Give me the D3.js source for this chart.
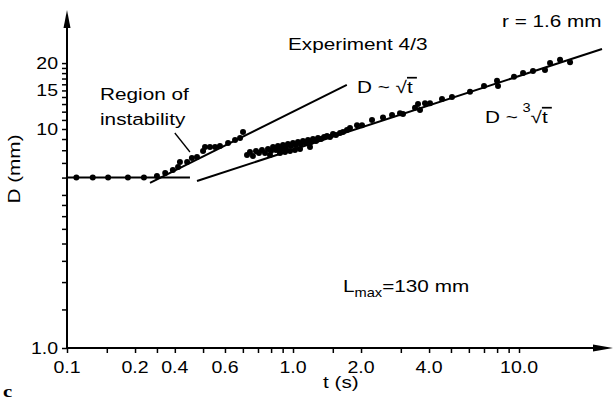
<!DOCTYPE html>
<html>
<head>
<meta charset="utf-8">
<script src="https://cdn.jsdelivr.net/npm/d3@7"></script>
<style>
body { margin: 0; background: #fff; }
text { font-family: "Liberation Sans", Arial, Helvetica, sans-serif; fill: #000; }
</style>
</head>
<body>
<script>
// values: t in s, D in mm

// plateau + region of instability (upper branch)
var earlyT = [0.110, 0.130, 0.152, 0.186, 0.219, 0.250, 0.272, 0.294, 0.310, 0.316, 0.340, 0.357,
              0.376, 0.400, 0.408, 0.429, 0.452, 0.475, 0.516, 0.554, 0.583, 0.601];
var earlyD = [6.0, 6.0, 6.0, 6.0, 6.0, 6.1, 6.30, 6.50, 6.70, 7.07, 7.07, 7.37,
              7.45, 7.94, 8.28, 8.28, 8.28, 8.37, 8.63, 8.91, 9.10, 9.69];

// dense cluster around t = 1 s
var clusterT = [0.626, 0.645, 0.665, 0.686, 0.707, 0.729, 0.752, 0.775, 0.799, 0.816, 0.841, 0.858,
                0.885, 0.903, 0.931, 0.950, 0.980, 1.000, 1.031, 1.052, 1.085, 1.107, 1.142, 1.165,
                1.201, 1.226, 1.264, 1.290, 1.330, 1.372, 1.414, 1.458, 1.503, 1.550, 1.614, 1.664,
                1.733, 0.791, 0.876, 0.970, 1.074, 1.189, 0.922, 1.020];
var clusterD = [7.61, 7.85, 7.53, 7.94, 7.77, 8.02, 7.77, 8.10, 7.94, 8.28, 8.02, 8.36,
                8.10, 8.45, 8.19, 8.54, 8.36, 8.63, 8.45, 8.72, 8.54, 8.82, 8.63, 8.91,
                8.72, 9.00, 8.82, 9.10, 9.00, 9.19, 9.29, 9.19, 9.49, 9.39, 9.59, 9.69,
                9.89, 7.61, 7.77, 7.94, 8.10, 8.28, 7.85, 8.02];

// late points along the cube-root law
var lateT = [1.787, 1.920, 2.020, 2.237, 2.502, 2.743, 2.975, 3.067, 3.466, 3.574, 3.647, 3.838,
             4.038, 4.563, 5.052, 6.071, 7.002, 7.993, 8.075, 9.504, 10.42, 11.53, 13.03, 13.72,
             15.19, 16.82];
var lateD = [10.1, 10.4, 10.4, 11.0, 11.3, 11.6, 11.8, 11.7, 12.5, 13.0, 12.2, 13.1,
             13.1, 13.7, 14.0, 14.8, 15.7, 16.6, 15.7, 17.3, 18.0, 18.4, 18.6, 20.0,
             20.7, 20.2];

// fitted lines
var plateauT = [0.1, 0.35],   plateauD = [6.0, 6.0];
var sqrtT    = [0.233, 1.73], sqrtD    = [5.67, 15.9];
var cbrtT    = [0.376, 23.3], cbrtD    = [5.79, 23.2];
// leader line for "Region of instability"
var leaderT  = [0.300, 0.350], leaderD = [9.59, 7.85];

// ticks
var xMinorTicks = [0.1, 0.15, 0.2, 0.25, 0.3, 0.4, 0.5, 0.6, 0.7, 0.8, 0.9, 1, 1.5, 2, 3, 4, 5, 6, 7, 8, 9, 10];
var xLabelTicks = [0.1, 0.2, 0.3, 0.5, 1, 2, 4, 10];
var xLabels     = ["0.1", "0.2", "0.4", "0.6", "1.0", "2.0", "4.0", "10.0"];
var yMinorTicks = [1, 1.5, 2, 2.5, 3, 3.5, 4, 4.5, 5, 6, 7, 8, 9, 10, 11, 12, 13, 14, 15, 16, 17, 18, 19, 20];
var yLabelTicks = [1, 10, 15, 20];
var yLabels     = ["1.0", "10", "15", "20"];

var W = 615, H = 403;
var sx = 1.22; // the original lettering is wide

var svg = d3.select("body").append("svg")
    .attr("width", W)
    .attr("height", H);

var x = d3.scaleLog().domain([0.1, 10]).range([67, 519]);
var y = d3.scaleLog().domain([1, 10]).range([348, 129]);

var x0 = x(0.1), y0 = y(1);
var xEnd = 613, yTop = 10;

function zip(ts, ds) { return ts.map(function(t, i) { return { t: t, D: ds[i] }; }); }

function label(px, py, str, size) {
    return svg.append("text")
        .attr("transform", "translate(" + px + "," + py + ") scale(" + sx + ",1)")
        .attr("font-size", size || 17)
        .text(str);
}

// ticks (drawn with d3 axes, domain lines replaced by arrows below)
svg.append("g")
    .attr("transform", "translate(0," + y0 + ")")
    .call(d3.axisBottom(x).tickValues(xMinorTicks).tickSize(5).tickFormat(""));
svg.append("g")
    .attr("transform", "translate(" + x0 + ",0)")
    .call(d3.axisLeft(y).tickValues(yMinorTicks).tickSize(5).tickFormat(""));
svg.selectAll(".domain").remove();
svg.selectAll(".tick line").attr("stroke", "#000").attr("stroke-width", 1.5);

// axis lines with arrow heads
svg.append("line").attr("x1", x0).attr("y1", y0).attr("x2", xEnd - 10).attr("y2", y0)
    .attr("stroke", "#000").attr("stroke-width", 2);
svg.append("line").attr("x1", x0).attr("y1", y0 + 1).attr("x2", x0).attr("y2", yTop + 10)
    .attr("stroke", "#000").attr("stroke-width", 2);
svg.append("path")
    .attr("d", "M" + xEnd + "," + y0 + "L" + (xEnd - 20) + "," + (y0 - 3.5) + "L" + (xEnd - 20) + "," + (y0 + 3.5) + "Z")
    .attr("fill", "#000");
svg.append("path")
    .attr("d", "M" + x0 + "," + yTop + "L" + (x0 - 3.5) + "," + (yTop + 18) + "L" + (x0 + 3.5) + "," + (yTop + 18) + "Z")
    .attr("fill", "#000");

// tick labels
xLabelTicks.forEach(function(v, i) {
    label(x(v), 373, xLabels[i], 16).attr("text-anchor", "middle");
});
yLabelTicks.forEach(function(v, i) {
    label(58, y(v) + 6, yLabels[i], 16).attr("text-anchor", "end");
});

// fitted lines
var line = d3.line().x(function(d) { return x(d.t); }).y(function(d) { return y(d.D); });
[[plateauT, plateauD], [sqrtT, sqrtD], [cbrtT, cbrtD]].forEach(function(p) {
    svg.append("path")
        .datum(zip(p[0], p[1]))
        .attr("d", line)
        .attr("fill", "none")
        .attr("stroke", "#000")
        .attr("stroke-width", 2);
});
svg.append("path")
    .datum(zip(leaderT, leaderD))
    .attr("d", line)
    .attr("fill", "none")
    .attr("stroke", "#000")
    .attr("stroke-width", 1.3);

// data points
var points = zip(earlyT, earlyD).concat(zip(clusterT, clusterD), zip(lateT, lateD));
svg.selectAll(".pt")
    .data(points)
    .enter().append("circle")
    .attr("class", "pt")
    .attr("cx", function(d) { return x(d.t); })
    .attr("cy", function(d) { return y(d.D); })
    .attr("r", 3)
    .attr("fill", "#000");

// annotations
label(502, 27, "r = 1.6 mm");
label(288, 50, "Experiment 4/3");
label(100, 100, "Region of");
label(100, 125, "instability");

var s1 = label(357, 93, "D ~ ");
s1.append("tspan").text("\u221A");
s1.append("tspan").style("text-decoration", "overline").text("t\u2009");

var s3 = label(485, 123, "D ~ ");
s3.append("tspan").attr("font-size", 12).attr("dy", -11).attr("dx", -1).text("3");
s3.append("tspan").attr("dy", 11).text("\u221A");
s3.append("tspan").style("text-decoration", "overline").text("t\u2009");

var lm = label(343, 292, "L");
lm.append("tspan").attr("font-size", 12).attr("dy", 5).text("max");
lm.append("tspan").attr("dy", -5).text("=130 mm");

// axis titles
label(323, 388, "t (s)");
svg.append("text")
    .attr("transform", "translate(20,169) rotate(-90) scale(" + sx + ",1)")
    .attr("font-size", 17)
    .attr("text-anchor", "middle")
    .text("D (mm)");

svg.append("text")
    .attr("transform", "translate(3,397) scale(" + sx + ",1)")
    .attr("font-weight", "bold")
    .attr("font-size", 17)
    .style("font-family", "'Liberation Serif', serif")
    .text("c");
</script>
</body>
</html>
